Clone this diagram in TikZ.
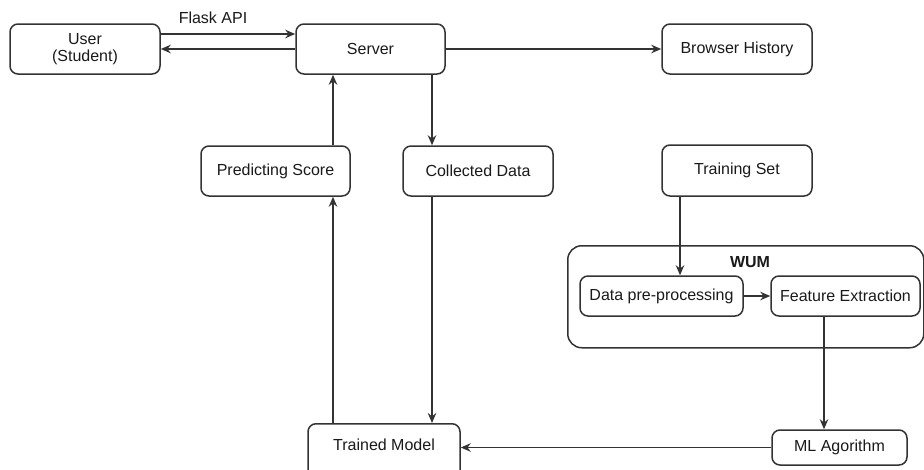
\documentclass[tikz,border=0pt]{standalone}
\usepackage{fontspec}
\setmainfont{Liberation Sans}
\usetikzlibrary{arrows.meta}
\definecolor{ln}{HTML}{333333}
\definecolor{tx}{HTML}{1A1A1A}
\tikzset{
  box/.style={draw=ln, line width=1.5pt, rounded corners=8pt, fill=white,
    text=tx, font=\fontsize{16}{16.5}\selectfont, align=center, inner sep=0pt},
  lbl/.style={text=tx, font=\fontsize{16}{16.5}\selectfont, inner sep=0pt},
  arr/.style={draw=ln, line width=1.5pt, -{Stealth[length=10pt,width=8.5pt]}},
  ln/.style={draw=ln, line width=1.5pt}
}
\begin{document}
\begin{tikzpicture}[x=1pt,y=-1pt]
\useasboundingbox (0,0) rectangle (924,469);
\clip (0,0) rectangle (924,469);
\fill[white] (0,0) rectangle (924,469);
% WUM container
\node[box, minimum width=356pt, minimum height=102pt, rounded corners=14pt, anchor=north west] (wum) at (567,245) {};
\node[lbl, font=\fontsize{16}{16.5}\selectfont\bfseries] (wumlbl) at (750,262) {WUM};
% nodes
\node[box, minimum width=150pt, minimum height=50pt] (user) at (85,49) {User\\(Student)};
\node[box, minimum width=149pt, minimum height=50pt] (server) at (370.5,49) {Server};
\node[box, minimum width=150pt, minimum height=50pt] (bh) at (737,49) {Browser History};
\node[box, minimum width=149pt, minimum height=50pt] (pred) at (275.5,171) {Predicting Score};
\node[box, minimum width=150pt, minimum height=50pt] (coll) at (478,171) {Collected Data};
\node[box, minimum width=150pt, minimum height=51pt] (train) at (737,170.5) {Training Set};
\node[box, minimum width=163pt, minimum height=40pt] (dp) at (661.5,296) {Data pre-processing};
\node[box, minimum width=149pt, minimum height=40pt] (fe) at (845.5,296) {Feature Extraction};
\node[box, minimum width=135pt, minimum height=35pt] (ml) at (839.5,447.5) {ML Agorithm};
\node[box, minimum width=152pt, minimum height=62pt, anchor=north] (tm) at (384,423) {};
\node[lbl] (tmlbl) at (384,445) {Trained Model};
\node[lbl] (flask) at (213,18) {Flask API};
% connectors
\draw[arr] ([yshift=15pt]user.east) -- ([yshift=15pt]server.west);
\draw[arr] (server.west) -- (user.east);
\draw[arr] (server.east) -- (bh.west);
\draw[arr] ([xshift=57.5pt]pred.north) -- ([xshift=57.5pt]pred.north |- server.south);
\draw[arr] ([xshift=-46pt]coll.north |- server.south) -- ([xshift=-46pt]coll.north);
\draw[arr] ([xshift=-46pt]coll.south) -- ([xshift=-46pt]coll.south |- tm.north);
\draw[arr] ([xshift=57.5pt]pred.south |- tm.north) -- ([xshift=57.5pt]pred.south);
\draw[arr] ([xshift=-57pt]train.south) -- ([xshift=-57pt]train.south |- dp.north);
\draw[arr] (dp.east) -- (fe.west);
\draw[arr] ([xshift=-21.5pt]fe.south) -- ([xshift=-21.5pt]fe.south |- ml.north);
\draw[arr] (ml.west) -- (ml.west -| tm.east);
\end{tikzpicture}
\end{document}
